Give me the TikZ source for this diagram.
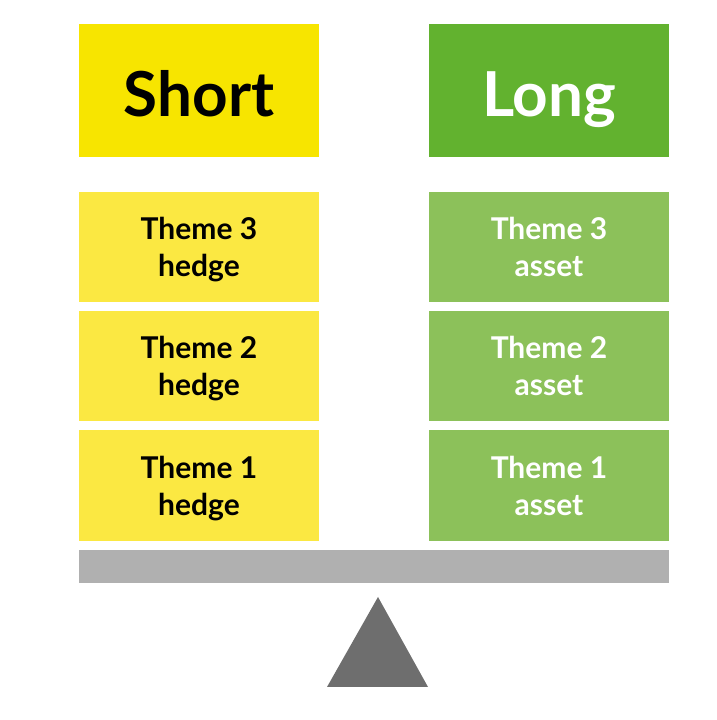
\documentclass[tikz,border=0pt]{standalone}
\usepackage{fontspec}
\setmainfont{Lato}[UprightFont=* Bold]
\definecolor{shortc}{HTML}{F7E500}
\definecolor{hedgec}{HTML}{FBE842}
\definecolor{longc}{HTML}{62B22F}
\definecolor{assetc}{HTML}{8CC15A}
\definecolor{beamc}{HTML}{B0B0B0}
\definecolor{fulc}{HTML}{6E6E6E}
\begin{document}
\begin{tikzpicture}[x=1pt,y=1pt,
  head/.style={inner sep=0pt, minimum width=240pt, minimum height=133pt, text height=53pt, text depth=0pt, font=\fontsize{62}{68}\selectfont},
  theme/.style={inner sep=0pt, minimum width=240pt, minimum height=110pt},
  themetext/.style={align=center, inner sep=0pt, text depth=8pt, yshift=-4pt, font=\fontsize{30}{37}\selectfont},
  hedgebox/.style={theme, fill=hedgec},
  assetbox/.style={theme, fill=assetc}]
\useasboundingbox (0,0) rectangle (716,720);
\fill[white] (0,0) rectangle (716,720);
\node[head, fill=shortc, text=black] (short) at (199,629.5) {Short};
\node[head, fill=longc, text=white] (long) at (549,629.5) {Long};
\node[hedgebox, label={[themetext, text=black]center:{Theme 3\\hedge}}] (h3) at (199,473) {};
\node[hedgebox, label={[themetext, text=black]center:{Theme 2\\hedge}}] (h2) at (199,354) {};
\node[hedgebox, minimum height=111pt, label={[themetext, text=black]center:{Theme 1\\hedge}}] (h1) at (199,234.5) {};
\node[assetbox, label={[themetext, text=white]center:{Theme 3\\asset}}] (a3) at (549,473) {};
\node[assetbox, label={[themetext, text=white]center:{Theme 2\\asset}}] (a2) at (549,354) {};
\node[assetbox, minimum height=111pt, label={[themetext, text=white]center:{Theme 1\\asset}}] (a1) at (549,234.5) {};
\node[fill=beamc, inner sep=0pt, minimum width=590pt, minimum height=33pt] (beam) at (374,153.5) {};
\fill[fulc] (327,33) -- (428,33) -- (378,123) -- cycle;
\end{tikzpicture}
\end{document}
